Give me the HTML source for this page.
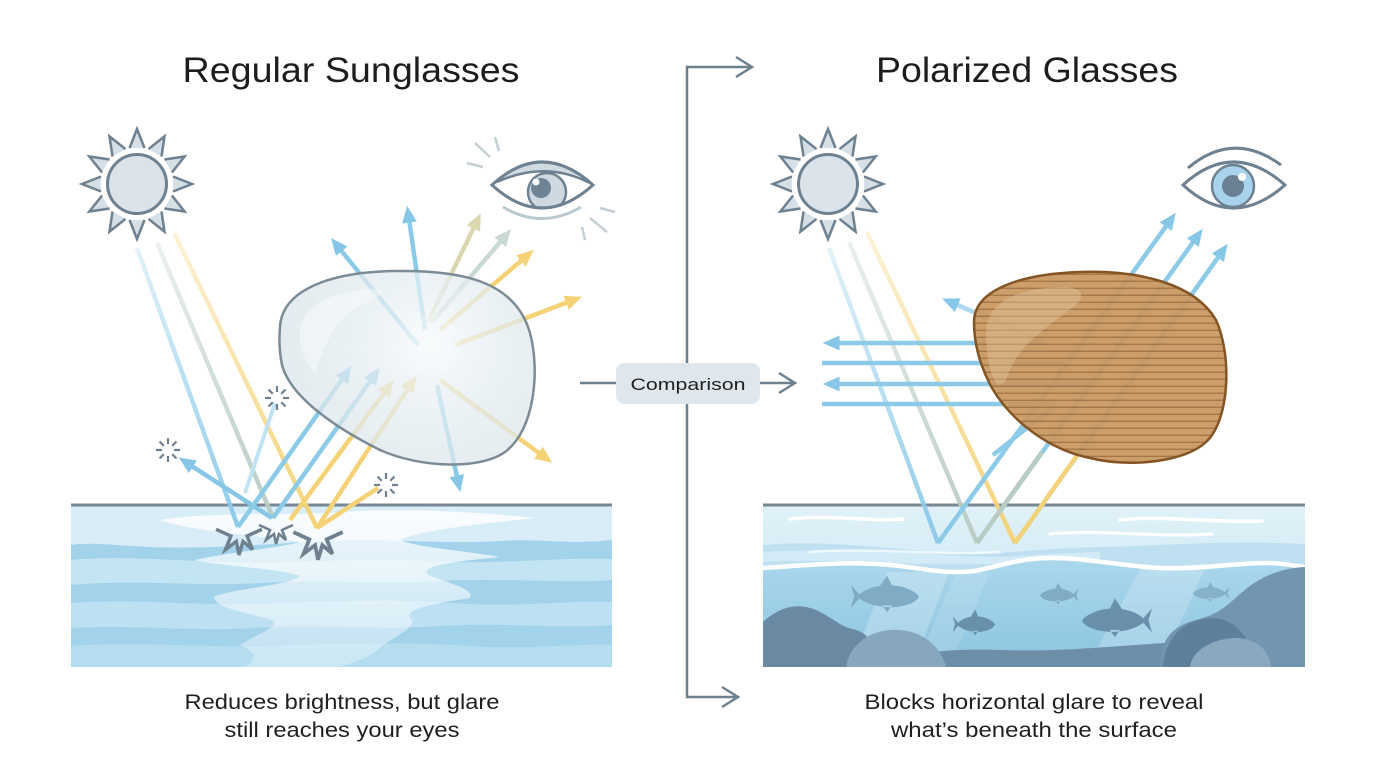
<!DOCTYPE html>
<html><head><meta charset="utf-8"><style>
html,body{margin:0;padding:0;background:#fff;}
svg{display:block;}
text{font-family:"Liberation Sans","DejaVu Sans",sans-serif;}
</style></head><body>
<svg width="1376" height="768" viewBox="0 0 1376 768" xmlns="http://www.w3.org/2000/svg">
<defs>
  <marker id="mB" viewBox="0 0 16 14" refX="10" refY="7" markerWidth="17" markerHeight="15" markerUnits="userSpaceOnUse" orient="auto"><path d="M0,0 L16,7 L0,14 Z" fill="#86c6e6"/></marker>
  <marker id="mY" viewBox="0 0 16 14" refX="10" refY="7" markerWidth="17" markerHeight="15" markerUnits="userSpaceOnUse" orient="auto"><path d="M0,0 L16,7 L0,14 Z" fill="#f4d275"/></marker>
  <marker id="mK" viewBox="0 0 16 14" refX="10" refY="7" markerWidth="17" markerHeight="15" markerUnits="userSpaceOnUse" orient="auto"><path d="M0,0 L16,7 L0,14 Z" fill="#dcd7ae"/></marker>
  <marker id="mG" viewBox="0 0 16 14" refX="10" refY="7" markerWidth="17" markerHeight="15" markerUnits="userSpaceOnUse" orient="auto"><path d="M0,0 L16,7 L0,14 Z" fill="#c8d9d4"/></marker>

  <linearGradient id="gL1" gradientUnits="userSpaceOnUse" x1="137" y1="248" x2="238" y2="527"><stop offset="0" stop-color="#8ccbe8" stop-opacity="0.25"/><stop offset="1" stop-color="#8ccbe8"/></linearGradient>
  <linearGradient id="gL2" gradientUnits="userSpaceOnUse" x1="157" y1="243" x2="273" y2="518"><stop offset="0" stop-color="#b9ccc3" stop-opacity="0.3"/><stop offset="1" stop-color="#b9ccc3"/></linearGradient>
  <linearGradient id="gL3" gradientUnits="userSpaceOnUse" x1="174" y1="233" x2="317" y2="528"><stop offset="0" stop-color="#f4d378" stop-opacity="0.3"/><stop offset="1" stop-color="#f4d378"/></linearGradient>
  <linearGradient id="gR1" gradientUnits="userSpaceOnUse" x1="829" y1="248" x2="938" y2="543"><stop offset="0" stop-color="#8ccbe8" stop-opacity="0.25"/><stop offset="1" stop-color="#8ccbe8"/></linearGradient>
  <linearGradient id="gR2" gradientUnits="userSpaceOnUse" x1="849" y1="242" x2="977" y2="543"><stop offset="0" stop-color="#b9ccc3" stop-opacity="0.3"/><stop offset="1" stop-color="#b9ccc3"/></linearGradient>
  <linearGradient id="gR3" gradientUnits="userSpaceOnUse" x1="867" y1="232" x2="1015" y2="543"><stop offset="0" stop-color="#f4d378" stop-opacity="0.3"/><stop offset="1" stop-color="#f4d378"/></linearGradient>

  <radialGradient id="lensL" cx="430" cy="345" r="160" gradientUnits="userSpaceOnUse"><stop offset="0" stop-color="#f4f8fa"/><stop offset="0.45" stop-color="#e4edf1"/><stop offset="1" stop-color="#d7e3e9"/></radialGradient>
  <linearGradient id="whiteGl" x1="0" y1="0" x2="0" y2="1"><stop offset="0" stop-color="#ffffff" stop-opacity="0.85"/><stop offset="1" stop-color="#ffffff" stop-opacity="0.3"/></linearGradient>
  <linearGradient id="surfR" x1="0" y1="0" x2="0" y2="1"><stop offset="0" stop-color="#e0f1f8"/><stop offset="1" stop-color="#c4e3f2"/></linearGradient>
  <linearGradient id="deepR" x1="0" y1="0" x2="0" y2="1"><stop offset="0" stop-color="#abd8ed"/><stop offset="1" stop-color="#8cc4e0"/></linearGradient>

  <pattern id="stripes" width="10" height="7" patternUnits="userSpaceOnUse" y="2"><rect width="10" height="7" fill="#c8975f"/><rect x="0" y="5.6" width="10" height="1.4" fill="#9c6d3c"/></pattern>

  <clipPath id="cl"><rect x="71" y="506" width="541" height="161"/></clipPath>
  <clipPath id="cr"><rect x="763" y="506" width="542" height="161"/></clipPath>
  <clipPath id="eyeL"><path d="M492,185 Q542,139 593,185 Q542,231 492,185 Z"/></clipPath>

  <path id="ray" d="M-7.5,-36 L0,-55 L7.5,-36" fill="#d5dfe6" stroke="#6e8190" stroke-width="2.5" stroke-linejoin="miter"/>
  <g id="sun">
    <use href="#ray"/><use href="#ray" transform="rotate(30)"/><use href="#ray" transform="rotate(60)"/><use href="#ray" transform="rotate(90)"/>
    <use href="#ray" transform="rotate(120)"/><use href="#ray" transform="rotate(150)"/><use href="#ray" transform="rotate(180)"/><use href="#ray" transform="rotate(210)"/>
    <use href="#ray" transform="rotate(240)"/><use href="#ray" transform="rotate(270)"/><use href="#ray" transform="rotate(300)"/><use href="#ray" transform="rotate(330)"/>
    <circle r="34" fill="#fff"/>
    <circle r="29.5" fill="#dae3e9" stroke="#6e8190" stroke-width="3"/>
  </g>
  <g id="spark" stroke="#6f8190" stroke-width="2.2">
    <line x1="6" y1="0" x2="12" y2="0"/><line x1="4.2" y1="4.2" x2="8.5" y2="8.5"/><line x1="0" y1="6" x2="0" y2="12"/>
    <line x1="-4.2" y1="4.2" x2="-8.5" y2="8.5"/><line x1="-6" y1="0" x2="-12" y2="0"/><line x1="-4.2" y1="-4.2" x2="-8.5" y2="-8.5"/>
    <line x1="0" y1="-6" x2="0" y2="-12"/><line x1="4.2" y1="-4.2" x2="8.5" y2="-8.5"/>
  </g>
  <polyline id="burst" points="-17,-2 -6,3 -10,13 -2,7 0,17 3,7 10,13 6,3 17,-2" fill="none" stroke="#6f8190" stroke-width="2.6" stroke-linejoin="miter"/>
  <path id="fish" d="M4,-13 L16,-2 C30,-12 55,-15 75,-11 C88,-8 98,-3 100,1 C97,6 88,10 75,12 C55,15 30,12 16,3 L4,14 L9,0 Z M45,-12 L55,-24 L62,-12 Z M48,11 L55,19 L62,11 Z"/>
</defs>

<rect width="1376" height="768" fill="#ffffff"/>

<!-- Titles -->
<text x="351" y="82" font-size="35" text-anchor="middle" textLength="337" lengthAdjust="spacingAndGlyphs" fill="#1d1d1d">Regular Sunglasses</text>
<text x="1027" y="82" font-size="35" text-anchor="middle" textLength="302" lengthAdjust="spacingAndGlyphs" fill="#1d1d1d">Polarized Glasses</text>

<!-- Central connector -->
<g stroke="#6d808e" stroke-width="2.5" fill="none">
  <path d="M687,363 V67 H752"/>
  <path d="M736,57 L752,67 L736,77"/>
  <path d="M687,404 V697 H737"/>
  <path d="M722,687 L738,697 L722,707"/>
  <path d="M580,383 H616"/>
  <path d="M760,383 H794"/>
  <path d="M779,373 L795,383 L779,393"/>
</g>
<rect x="616" y="363" width="144" height="41" rx="8" fill="#dfe7ed"/>
<text x="688" y="390" font-size="17" text-anchor="middle" textLength="115" lengthAdjust="spacingAndGlyphs" fill="#1f1f1f">Comparison</text>

<!-- LEFT WATER -->
<g clip-path="url(#cl)">
  <rect x="71" y="506" width="541" height="161" fill="#a3d3eb"/>
  <path d="M71,506 H612 V540 C570,545 540,538 500,541 C440,545 380,537 320,541 C260,545 200,549 150,547 C110,545 90,542 71,545 Z" fill="#d8edf7"/>
  <path d="M71,560 C120,555 170,561 230,562 C300,564 360,557 430,561 C500,565 560,557 612,559 V580 C560,584 500,577 440,581 C380,585 320,579 260,583 C200,587 140,579 71,585 Z" fill="#c3e4f3"/>
  <path d="M71,603 C130,598 190,606 250,604 C320,602 380,598 450,603 C520,608 570,600 612,602 V625 C560,629 500,622 440,626 C380,630 320,624 250,628 C190,632 130,624 71,628 Z" fill="#bde1f2"/>
  <path d="M71,646 C140,641 200,648 270,646 C340,644 400,641 470,646 C530,650 580,643 612,645 V667 H71 Z" fill="#b4ddf0"/>
  <path d="M160,520 C220,511 300,516 340,512 C400,508 470,511 535,518 C480,524 420,530 400,540 C420,548 460,550 500,557 C450,562 420,566 428,575 C455,585 475,590 470,598 C430,604 400,610 412,620 C416,630 385,640 378,650 C365,660 340,667 335,667 L245,667 C262,656 250,650 240,645 C255,635 282,626 272,620 C242,612 210,606 215,596 C240,588 290,585 300,576 C280,568 215,566 195,560 C230,552 280,548 300,542 C258,535 195,532 160,520 Z" fill="url(#whiteGl)"/>
</g>
<line x1="71" y1="505" x2="612" y2="505" stroke="#778894" stroke-width="3"/>

<!-- RIGHT WATER -->
<g clip-path="url(#cr)">
  <rect x="763" y="506" width="542" height="161" fill="url(#surfR)"/>
  <path d="M763,545 C820,540 880,548 940,552 C1000,556 1040,548 1100,547 C1160,546 1220,540 1305,544 V575 H763 Z" fill="#bfe0f0"/>
  <path d="M763,552 C830,548 900,552 960,556 C1010,559 1050,553 1100,552 V560 C1040,562 980,566 900,563 C840,561 800,560 763,562 Z" fill="#d3ebf6"/>
  <path d="M763,568 C800,566 850,560 900,566 C930,570 950,574 975,571 C1000,566 1020,558 1050,558 C1090,558 1120,566 1160,568 C1200,570 1240,562 1270,563 C1290,564 1300,567 1305,567 V667 H763 Z" fill="url(#deepR)"/>
  <polygon points="887,572 949,572 913,667 851,667" fill="#ffffff" opacity="0.22"/>
  <polygon points="955,575 990,572 950,667 915,667" fill="#ffffff" opacity="0.12"/>
  <polygon points="1142,566 1207,564 1160,667 1087,667" fill="#ffffff" opacity="0.2"/>
  <path d="M763,568 C800,566 850,560 900,566 C930,570 950,574 975,571 C1000,566 1020,558 1050,558 C1090,558 1120,566 1160,568 C1200,570 1240,562 1270,563 C1290,564 1300,567 1305,567" fill="none" stroke="#ffffff" stroke-width="4.5"/>
  <g fill="none" stroke="#ffffff" stroke-linecap="round">
    <path d="M790,519 C830,514 870,522 903,519" stroke-width="3.5"/>
    <path d="M1120,520 C1160,515 1210,523 1262,521" stroke-width="3.5"/>
    <path d="M1050,534 C1100,529 1160,538 1212,534" stroke-width="3"/>
    <path d="M810,552 C870,547 940,556 1000,552" stroke-width="2.5" opacity="0.7"/>
  </g>
  <!-- fish -->
  <use href="#fish" fill="#80abc5" transform="translate(848,596) scale(0.71,0.85)"/>
  <use href="#fish" fill="#80abc5" transform="translate(1080,595) scale(-0.4,0.5)"/>
  <use href="#fish" fill="#80abc5" opacity="0.85" transform="translate(1231,593) scale(-0.38,0.46)"/>
  <use href="#fish" fill="#6990aa" transform="translate(951,624) scale(0.44,0.6)"/>
  <use href="#fish" fill="#6990aa" transform="translate(1155,620) scale(-0.73,0.9)"/>
  <!-- rocks -->
  <path d="M860,667 C900,655 940,648 1000,650 C1060,652 1100,647 1165,643 V667 Z" fill="#6d8ea8"/>
  <path d="M763,622 C775,611 790,604 806,607 C826,611 836,625 852,629 C872,633 872,645 872,667 H763 Z" fill="#6a8aa4"/>
  <path d="M846,667 C850,642 874,628 900,630 C926,632 942,650 946,667 Z" fill="#87a7bd"/>
  <path d="M1160,667 C1160,640 1172,626 1196,620 C1222,614 1232,600 1246,589 C1262,576 1282,568 1305,567 V667 Z" fill="#7396b0"/>
  <path d="M1163,667 C1165,636 1185,620 1210,618 C1236,617 1252,640 1256,667 Z" fill="#5f809a"/>
  <path d="M1190,667 C1192,651 1210,640 1233,638 C1256,637 1269,650 1271,667 Z" fill="#8aa9be"/>
</g>
<line x1="763" y1="505" x2="1305" y2="505" stroke="#778894" stroke-width="3"/>

<!-- Suns -->
<use href="#sun" transform="translate(137,184)"/>
<use href="#sun" transform="translate(828,184)"/>

<!-- Left eye -->
<g>
  <g stroke="#c3ced5" stroke-width="2.5">
    <line x1="475" y1="143" x2="490" y2="157"/><line x1="495" y1="137" x2="499" y2="151"/><line x1="467" y1="163" x2="483" y2="167"/>
    <line x1="600" y1="208" x2="615" y2="212"/><line x1="590" y1="218" x2="607" y2="232"/><line x1="582" y1="227" x2="585" y2="240"/>
  </g>
  <path d="M492,185 Q542,139 593,185 Q542,231 492,185 Z" fill="#ffffff"/>
  <g clip-path="url(#eyeL)">
    <circle cx="547" cy="192" r="19" fill="#cdd8e0" stroke="#6e8190" stroke-width="2.5"/>
    <circle cx="541" cy="188" r="10" fill="#6e8394"/>
    <circle cx="536" cy="182" r="3.5" fill="#ffffff"/>
    <path d="M488,150 H600 V186 Q590,181 588,180 Q545,160 497,182 L488,186 Z" fill="#cfdae1"/>
    <path d="M497,182 Q545,160 590,183" fill="none" stroke="#6e8190" stroke-width="2.5"/>
  </g>
  <path d="M492,185 Q542,139 593,185 Q542,231 492,185 Z" fill="none" stroke="#6e8190" stroke-width="3"/>
  <path d="M503,207 Q542,230 581,207" fill="none" stroke="#b9c9d1" stroke-width="3"/>
</g>

<!-- Right eye -->
<g>
  <path d="M1188,168 Q1233,130 1281,165" fill="none" stroke="#6e8190" stroke-width="3"/>
  <path d="M1183,185 Q1233,139 1285,185 Q1233,231 1183,185 Z" fill="#ffffff" stroke="#6e8190" stroke-width="3"/>
  <circle cx="1233" cy="186" r="21" fill="#a8d3ec" stroke="#6e8190" stroke-width="2.5"/>
  <circle cx="1233" cy="186" r="11" fill="#6b8092"/>
  <circle cx="1242" cy="177" r="4" fill="#ffffff"/>
</g>

<!-- LEFT RAYS -->
<g stroke-width="4.5" fill="none" stroke-linecap="butt">
  <line x1="137" y1="248" x2="238" y2="527" stroke="url(#gL1)"/>
  <line x1="157" y1="243" x2="273" y2="518" stroke="url(#gL2)"/>
  <line x1="174" y1="233" x2="317" y2="528" stroke="url(#gL3)"/>
  <line x1="245" y1="493" x2="275" y2="403" stroke="#bfe3f3" stroke-width="4"/>
  <line x1="272" y1="518" x2="184" y2="461" stroke="#86c6e6" marker-end="url(#mB)"/>
  <line x1="238" y1="527" x2="348" y2="371" stroke="#8ccbe8" marker-end="url(#mB)"/>
  <line x1="273" y1="518" x2="376" y2="373" stroke="#8ccbe8" marker-end="url(#mB)"/>
  <line x1="290" y1="520" x2="390" y2="385" stroke="#f4d275" marker-end="url(#mY)"/>
  <line x1="317" y1="528" x2="413" y2="381" stroke="#f4d275" marker-end="url(#mY)"/>
  <line x1="317" y1="528" x2="378" y2="488" stroke="#f4d275"/>
  <!-- outgoing -->
  <line x1="418" y1="345" x2="335" y2="243" stroke="#8ccbe8" marker-end="url(#mB)"/>
  <line x1="425" y1="330" x2="408" y2="212" stroke="#8ccbe8" marker-end="url(#mB)"/>
  <line x1="428" y1="322" x2="478" y2="219" stroke="#dcd7ae" marker-end="url(#mK)"/>
  <line x1="432" y1="322" x2="507" y2="234" stroke="#c8d9d4" marker-end="url(#mG)"/>
  <line x1="440" y1="330" x2="529" y2="254" stroke="#f4d275" marker-end="url(#mY)"/>
  <line x1="455" y1="345" x2="576" y2="299" stroke="#f4d275" marker-end="url(#mY)"/>
  <line x1="440" y1="380" x2="547" y2="459" stroke="#f4d275" marker-end="url(#mY)"/>
  <line x1="437" y1="385" x2="459" y2="486" stroke="#8ccbe8" marker-end="url(#mB)"/>
</g>
<!-- left lens -->
<path d="M280,327 C282,290 330,272 395,271 C460,270 515,280 530,333 C540,370 535,430 505,452 C480,470 420,468 380,450 C330,425 290,395 282,365 C279,350 279,338 280,327 Z" fill="url(#lensL)" opacity="0.74"/>
<path d="M300,330 C304,300 340,290 382,289 C386,295 370,300 352,311 C332,326 322,350 316,372 C305,364 299,350 300,330 Z" fill="#ffffff" opacity="0.4"/>
<circle cx="430" cy="345" r="30" fill="#ffffff" opacity="0.2"/>
<path d="M280,327 C282,290 330,272 395,271 C460,270 515,280 530,333 C540,370 535,430 505,452 C480,470 420,468 380,450 C330,425 290,395 282,365 C279,350 279,338 280,327 Z" fill="none" stroke="#7c8c97" stroke-width="2.5"/>

<!-- sparkles and bursts -->
<use href="#spark" transform="translate(168,450)"/>
<use href="#spark" transform="translate(277,398)"/>
<use href="#spark" transform="translate(386,485)"/>
<use href="#burst" transform="translate(239,532) scale(1.35)"/>
<use href="#burst" transform="translate(276,527) scale(1.0)"/>
<use href="#burst" transform="translate(318,535) scale(1.45)"/>

<!-- RIGHT RAYS -->
<g stroke-width="4.5" fill="none">
  <line x1="829" y1="248" x2="938" y2="543" stroke="url(#gR1)"/>
  <line x1="849" y1="242" x2="977" y2="543" stroke="url(#gR2)"/>
  <line x1="867" y1="232" x2="1015" y2="543" stroke="url(#gR3)"/>
  <line x1="938" y1="543" x2="1172" y2="218" stroke="#8ccbe8" marker-end="url(#mB)"/>
  <line x1="977" y1="543" x2="1199" y2="234" stroke="#8ccbe8" marker-end="url(#mB)"/>
  <line x1="1015" y1="543" x2="1224" y2="249" stroke="#8ccbe8" marker-end="url(#mB)"/>
  <line x1="977" y1="543" x2="1042" y2="452" stroke="#b9ccc3"/>
  <line x1="1015" y1="543" x2="1078" y2="454" stroke="#f4d378"/>
  <line x1="1046" y1="343" x2="829" y2="343" stroke="#8ccbe8" marker-end="url(#mB)"/>
  <line x1="1046" y1="343" x2="948" y2="301" stroke="#a9d8ef" marker-end="url(#mB)"/>
  <line x1="1065" y1="363" x2="822" y2="363" stroke="#8ccbe8"/>
  <line x1="1092" y1="384" x2="829" y2="384" stroke="#8ccbe8" marker-end="url(#mB)"/>
  <line x1="1057" y1="404" x2="822" y2="404" stroke="#8ccbe8"/>
  <line x1="1057" y1="404" x2="993" y2="455" stroke="#8ccbe8"/>
</g>
<!-- right lens -->
<g opacity="0.93">
  <path d="M974,322 C974,290 1020,274 1080,272 C1140,270 1195,284 1216,320 C1232,355 1230,420 1206,442 C1185,462 1130,468 1090,458 C1050,450 1012,422 992,388 C979,364 974,342 974,322 Z" fill="url(#stripes)"/>
</g>
<path d="M986,330 C989,300 1020,288 1062,287 C1082,287 1086,295 1076,305 C1050,325 1016,345 1006,380 C996,395 986,370 986,330 Z" fill="#e2c49c" opacity="0.45"/>
<path d="M974,322 C974,290 1020,274 1080,272 C1140,270 1195,284 1216,320 C1232,355 1230,420 1206,442 C1185,462 1130,468 1090,458 C1050,450 1012,422 992,388 C979,364 974,342 974,322 Z" fill="none" stroke="#845424" stroke-width="2.5"/>

<!-- Captions -->
<text x="342" y="709" font-size="21" text-anchor="middle" textLength="315" lengthAdjust="spacingAndGlyphs" fill="#1f1f1f">Reduces brightness, but glare</text>
<text x="342" y="737" font-size="21" text-anchor="middle" textLength="235" lengthAdjust="spacingAndGlyphs" fill="#1f1f1f">still reaches your eyes</text>
<text x="1034" y="709" font-size="21" text-anchor="middle" textLength="339" lengthAdjust="spacingAndGlyphs" fill="#1f1f1f">Blocks horizontal glare to reveal</text>
<text x="1034" y="737" font-size="21" text-anchor="middle" textLength="286" lengthAdjust="spacingAndGlyphs" fill="#1f1f1f">what’s beneath the surface</text>
</svg>
</body></html>
